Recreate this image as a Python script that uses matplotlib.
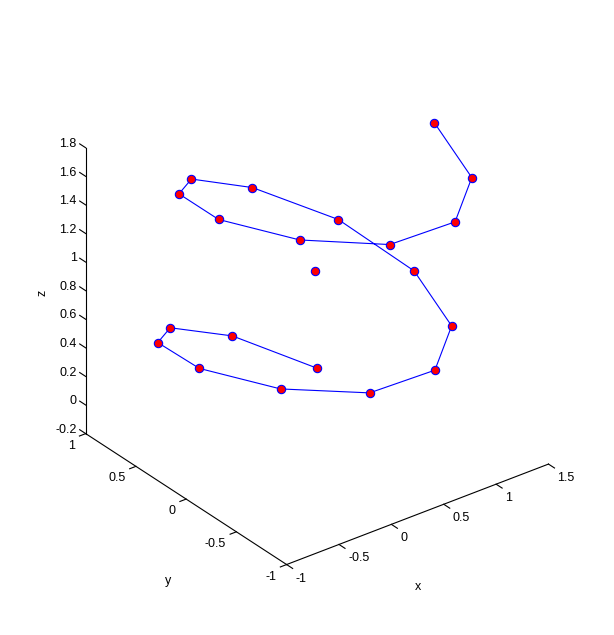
import numpy as np
import matplotlib
matplotlib.use("Agg")
import matplotlib.pyplot as plt

# helix samples (plot3 order)
x = [0.73, 0.40, -0.03, -0.36, -0.48, -0.30, 0.08, 0.55, 0.94, 1.09,
     0.99, 0.65, 0.23, -0.10, -0.23, -0.05, 0.33, 0.80, 1.19, 1.34]
y = [0.50, 1.00, 1.17, 0.95, 0.41, -0.21, -0.70, -0.86, -0.62, -0.09,
     0.56, 1.06, 1.23, 1.01, 0.48, -0.14, -0.64, -0.80, -0.56, -0.03]
z = [0.00, 0.09, 0.19, 0.28, 0.38, 0.47, 0.56, 0.66, 0.75, 0.85,
     0.94, 1.03, 1.13, 1.22, 1.32, 1.41, 1.50, 1.60, 1.69, 1.79]

# the lone point in the middle
cx, cy, cz = 0.43, 0.21, 0.90

xticks = [-1, -0.5, 0, 0.5, 1, 1.5]
yticks = [-1, -0.5, 0, 0.5, 1]
zticks = [-0.2, 0, 0.2, 0.4, 0.6, 0.8, 1, 1.2, 1.4, 1.6, 1.8]
xlim = (-1, 1.5)
ylim = (-1, 1)
zlim = (-0.2, 1.8)

W, H = 614, 635
plt.rcParams['font.family'] = ['Liberation Sans', 'DejaVu Sans']
plt.rcParams['font.size'] = 9

fig = plt.figure(figsize=(W / 100, H / 100), dpi=100)
ax = fig.add_axes([0, (H - W) / 2 / H, 1, W / H], projection='3d',
                  proj_type='ortho', computed_zorder=False)
ax.set_xlim(*xlim)
ax.set_ylim(*ylim)
ax.set_zlim(*zlim)
ax.set_box_aspect((1, 1, 1))
ax.view_init(elev=30, azim=-127.5)
ax.set_axis_off()

# matlab style axes: three bare lines with little ticks
k = 'black'
lw = 0.8
ax.plot(xlim, [-1, -1], [-0.2, -0.2], color=k, lw=lw)
ax.plot([-1, -1], ylim, [-0.2, -0.2], color=k, lw=lw)
ax.plot([-1, -1], [1, 1], zlim, color=k, lw=lw)

labels = []  # (3d anchor, text, ha, va, rotation)
for t in xticks:
    ax.plot([t, t], [-1, -1.06], [-0.2, -0.2], color=k, lw=lw)
    labels.append(((t, -1.09, -0.257), '%g' % t, 'left', 'center', 0))
for t in yticks:
    ax.plot([-1, -1.06], [t, t], [-0.2, -0.2], color=k, lw=lw)
    labels.append(((-1.1, t, -0.256), '%g' % t, 'right', 'center', 0))
for t in zticks:
    ax.plot([-1, -1], [1, 1.06], [t, t], color=k, lw=lw)
    labels.append(((-1.02, 1.07, t), '%g' % t, 'right', 'center', 0))

labels.append(((0.25, -1, -0.71), 'x', 'center', 'center', 0))
labels.append(((-1.169, 0, -0.723), 'y', 'center', 'center', 0))
labels.append(((-1.278, 1.14, 0.8), 'z', 'center', 'center', 90))

# data
ax.plot(x, y, z, color='#0000ff', lw=0.8, marker='o', ms=6,
        mfc='#ff0000', mec='#0000ff', mew=0.8)
ax.plot([cx], [cy], [cz], ls='none', marker='o', ms=6,
        mfc='#ff0000', mec='#0000ff', mew=0.8)

fig.canvas.draw()


def disp(p):
    v = ax.M @ np.array([p[0], p[1], p[2], 1.0])
    return ax.transData.transform((v[0] / v[3], v[1] / v[3]))


# fit the axes box so the cube corners land where matlab put them
refs = [(-1, -1, -0.2), (1.5, -1, -0.2), (-1, 1, -0.2), (-1, 1, 1.8)]
targets = [(286.5, H - 564.5), (549, H - 464), (85.5, H - 433), (85.5, H - 148.5)]
pos = ax.get_position()
x0, y0, w = pos.x0 * W, pos.y0 * H, pos.width * W
rows, rhs = [], []
for p, t in zip(refs, targets):
    m = disp(p)
    rows.append([(m[0] - x0) / w, 1, 0])
    rhs.append(t[0])
    rows.append([(m[1] - y0) / w, 0, 1])
    rhs.append(t[1])
w2, x02, y02 = np.linalg.lstsq(np.array(rows), np.array(rhs), rcond=None)[0]
ax.set_position([x02 / W, y02 / H, w2 / W, w2 / H])
fig.canvas.draw()

# texts as plain 2d figure text at the projected anchors
for p, s, ha, va, rot in labels:
    d = disp(p)
    fig.text(d[0] / W, d[1] / H, s, ha=ha, va=va, rotation=rot)

fig.savefig('out.png', dpi=100)
